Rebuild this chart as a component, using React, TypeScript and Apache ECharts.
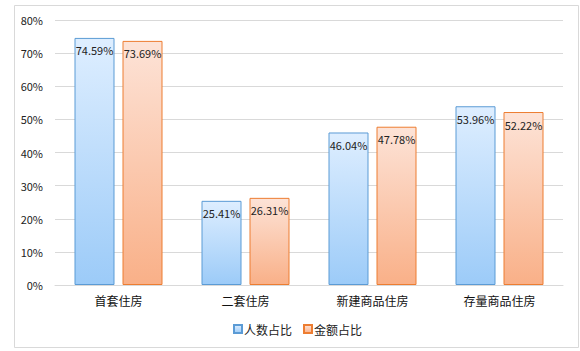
import React, { useEffect, useRef } from "react";
import * as echarts from "echarts";

const categories = ["首套住房", "二套住房", "新建商品住房", "存量商品住房"];
const peopleShare = [74.59, 25.41, 46.04, 53.96];
const amountShare = [73.69, 26.31, 47.78, 52.22];
const seriesNames = ["人数占比", "金额占比"];

const FONT = "'Noto Sans CJK SC', 'Noto Sans', sans-serif";

export default function App() {
  const ref = useRef<HTMLDivElement>(null);
  useEffect(() => {
    const chart = echarts.init(ref.current!, undefined, { renderer: "svg" });
    const label = {
      show: true,
      position: "insideTop" as const,
      distance: 7,
      color: "#222",
      fontSize: 11,
      fontFamily: FONT,
      formatter: (p: any) => p.value.toFixed(2) + "%",
    };
    chart.setOption({
      animation: false,
      textStyle: { fontFamily: FONT },
      graphic: [
        {
          type: "rect",
          shape: { x: 14.5, y: 5.5, width: 564, height: 342 },
          style: { fill: "none", stroke: "#d9d9d9", lineWidth: 1 },
          silent: true,
        },
      ],
      grid: { left: 55, right: 17, top: 20, bottom: 66, containLabel: false },
      legend: {
        top: 318,
        left: 228,
        icon: "rect",
        itemWidth: 8,
        itemHeight: 8,
        itemGap: 11,
        textStyle: { fontSize: 12, color: "#222", fontFamily: FONT, padding: [0, 0, 0, -3] },
        data: seriesNames,
      },
      xAxis: {
        type: "category",
        data: categories,
        axisTick: { show: false },
        axisLine: { lineStyle: { color: "#d9d9d9" } },
        axisLabel: { color: "#111", fontSize: 12, margin: 9, fontFamily: FONT },
      },
      yAxis: {
        type: "value",
        min: 0,
        max: 80,
        interval: 10,
        axisLabel: { formatter: "{value}%", color: "#222", fontSize: 11, margin: 12, fontFamily: FONT },
        splitLine: { lineStyle: { color: "#d9d9d9" } },
        axisLine: { show: false },
        axisTick: { show: false },
      },
      series: [
        {
          name: seriesNames[0],
          type: "bar",
          data: peopleShare,
          barWidth: 40,
          barGap: "20%",
          itemStyle: {
            color: new echarts.graphic.LinearGradient(0, 0, 0, 1, [
              { offset: 0, color: "#deeeff" },
              { offset: 1, color: "#9ccbf8" },
            ]),
            borderColor: "#5b9bd5",
            borderWidth: 1,
          },
          label,
        },
        {
          name: seriesNames[1],
          type: "bar",
          data: amountShare,
          barWidth: 40,
          itemStyle: {
            color: new echarts.graphic.LinearGradient(0, 0, 0, 1, [
              { offset: 0, color: "#fde3d7" },
              { offset: 1, color: "#f9b088" },
            ]),
            borderColor: "#ed7d31",
            borderWidth: 1,
          },
          label,
        },
      ],
    });
    return () => chart.dispose();
  }, []);
  return (
    <div
      ref={ref}
      style={{ position: "fixed", left: 0, top: 0, width: 580, height: 351, background: "#fff" }}
    />
  );
}
